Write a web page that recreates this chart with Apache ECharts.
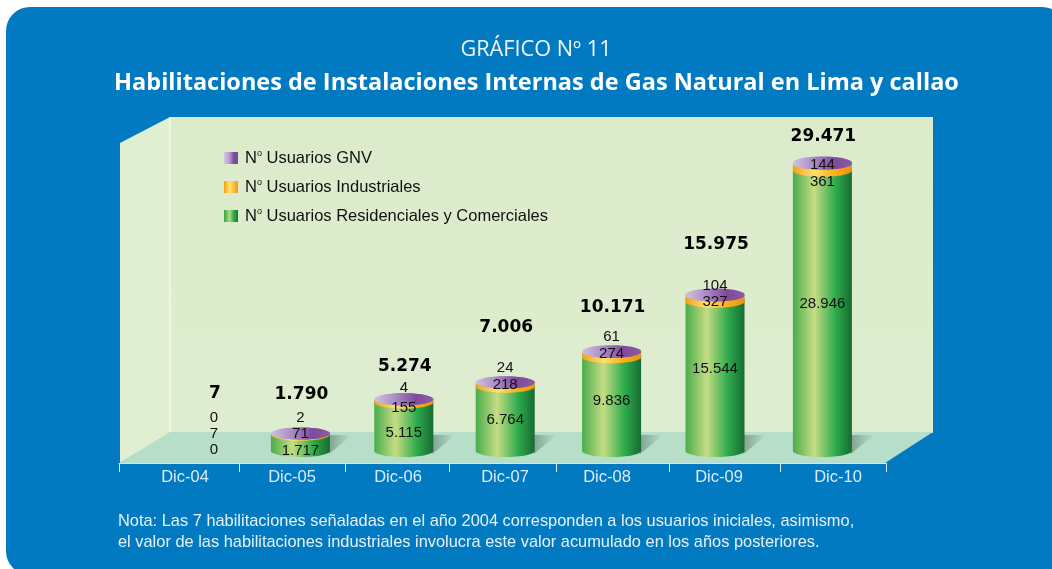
<!DOCTYPE html>
<html><head><meta charset="utf-8">
<style>html,body{margin:0;padding:0;background:#fff}#c{width:1052px;height:569px}</style>
<script src="https://cdn.jsdelivr.net/npm/echarts@6/dist/echarts.min.js"></script>
</head><body><div id="c"></div>
<script>
const categories = ['Dic-04','Dic-05','Dic-06','Dic-07','Dic-08','Dic-09','Dic-10'];
const residenciales = [0,1717,5115,6764,9836,15544,28946];
const industriales = [7,71,155,218,274,327,361];
const gnv = [0,2,4,24,61,104,144];
const totales = [7,1790,5274,7006,10171,15975,29471];

// axis slots as drawn in the reference (uneven), in axis units
const tickEdges = [0,120,226,330,437,550,661,767];
const labelCenters = [66,173,279,386,488,600,719];

// nudges (px), independent of the data
const barNudge = [0,0,-1,-4,-2,-3,0];
const labelNudgeX = [18,0,0,0,0,0,0];
const nudgeGnv = [-34,-17,-12,-15,-15,-10,1];
const nudgeInd = [-18,-1,8,2,2,6,18];
const nudgeRes = [-2,16,33,37,49,73,140];
const nudgeTot = [-58,-40,-34,-56,-45,-51,-27];

const fmt = v => String(v).replace(/\B(?=(\d{3})+$)/g,'.');
const grad = stops => new echarts.graphic.LinearGradient(0,0,1,0,stops.map(c=>({offset:c[0],color:c[1]})));
const greenG = () => grad([[0,'#48ad4c'],[0.36,'#c6dc84'],[0.72,'#2dab4c'],[1,'#176b31']]);
const orangeG = () => grad([[0,'#f4a21c'],[0.36,'#ffdf70'],[0.7,'#fbb01c'],[1,'#e8930e']]);
const purpleG = () => grad([[0,'#cfc2e0'],[0.35,'#ab8cc4'],[0.7,'#7f4a9d'],[1,'#8a5ba8']]);

const HALF = 29.5, RY = 6;
const sums = categories.map((_,i)=>residenciales[i]+industriales[i]+gnv[i]);

function cyl(level){
  return function(params, api){
    const i = api.value(0), val = api.value(1), base = api.value(2);
    const cx0 = api.coord([i,0])[0] + barNudge[i];
    let y0 = api.coord([i,base])[1];
    const y1 = api.coord([i,base+val])[1];
    if (level===1) y0 += (y0-y1); // the thin band reads thicker in the reference
    const topY = api.coord([i,sums[i]])[1];
    const children = [];
    const visible = sums[i] > 100;
    if (visible && val > 0) {
      const fill = level===0?greenG():level===1?orangeG():purpleG();
      if (level===0) {
        children.push({type:'polygon',shape:{points:[[cx0+HALF-1,y0-16],[cx0+HALF+22,y0-16],[cx0+HALF-1,y0+3]]},
          style:{fill:new echarts.graphic.LinearGradient(0,0,1,0,[{offset:0,color:'rgba(80,105,95,.5)'},{offset:1,color:'rgba(80,105,95,0)'}])},z2:1});
      }
      children.push({type:'ellipse',shape:{cx:cx0,cy:y0,rx:HALF,ry:RY},style:{fill},z2:2+level});
      children.push({type:'rect',shape:{x:cx0-HALF,y:y1,width:HALF*2,height:y0-y1},style:{fill},z2:2+level});
      if (level===2) children.push({type:'ellipse',shape:{cx:cx0,cy:y1,rx:HALF,ry:RY},style:{fill},z2:6});
    }
    const ny = level===0?nudgeRes[i]:level===1?nudgeInd[i]:nudgeGnv[i];
    const tx = cx0+labelNudgeX[i];
    children.push({type:'text',z2:100,style:{x:tx,y:topY+ny+1,text:fmt(val),textAlign:'center',textVerticalAlign:'middle',
      fill:'#111',font:'15px "Liberation Sans"'}});
    if (level===2) children.push({type:'text',z2:100,style:{x:tx+1,y:topY+nudgeTot[i]+1,text:fmt(totales[i]),textAlign:'center',textVerticalAlign:'middle',
      fill:'#000',font:'bold 17px "DejaVu Sans"'}});
    return {type:'group',children};
  };
}
const mk = (name,vals,bases,level,color)=>({
  type:'custom',name,xAxisIndex:0,yAxisIndex:0,clip:false,
  renderItem:cyl(level),
  itemStyle:{color},
  encode:{x:0,y:1},
  data:vals.map((v,i)=>[i,v,bases[i]])
});
const zeros = categories.map(()=>0);
const names = ['Usuarios Residenciales y Comerciales','Usuarios Industriales','Usuarios GNV'];
const chart = echarts.init(document.getElementById('c'),null,{renderer:'canvas'});
const legendG = s => new echarts.graphic.LinearGradient(0,0,1,0,s);
chart.setOption({
  animation:false,
  backgroundColor:'#ffffff',
  title:[
    {text:'GRÁFICO Nº 11',left:531,top:34,textAlign:'center',textStyle:{color:'#eef6fb',fontFamily:'Open Sans',fontWeight:'normal',fontSize:21.7}},
    {text:'Habilitaciones de Instalaciones Internas de Gas Natural en Lima y callao',left:531.5,top:66,textAlign:'center',textStyle:{color:'#fff',fontFamily:'Open Sans',fontWeight:'bold',fontSize:23.5}}
  ],
  legend:{
    left:224,top:149,padding:0,orient:'vertical',itemWidth:14,itemHeight:12,itemGap:11.5,icon:'rect',
    data:[names[2],names[1],names[0]],selectedMode:false,
    formatter:n=>'{p| }{n|N}{s|o}{n| '+n+'}',
    textStyle:{rich:{p:{width:2,fontSize:4,lineHeight:18},n:{fontFamily:'Liberation Sans',fontSize:16.5,color:'#111',lineHeight:18},s:{fontFamily:'Liberation Sans',fontSize:9,color:'#111',verticalAlign:'top',lineHeight:18}}}
  },
  grid:[
    {left:143.8,width:730.8,top:157,height:294},
    {left:119,width:767,top:172,height:291}
  ],
  xAxis:[
    {type:'category',gridIndex:0,data:categories,show:false},
    {type:'value',gridIndex:1,min:0,max:767,splitLine:{show:false},
     axisLine:{show:true,lineStyle:{color:'#cfe6f2',width:1}},
     axisTick:{show:true,length:9,inside:false,customValues:tickEdges,lineStyle:{color:'#dcecf5',width:1}},
     axisLabel:{customValues:labelCenters,margin:6,color:'#dcecf7',fontFamily:'Liberation Sans',fontSize:16.5,
       formatter:v=>categories[labelCenters.indexOf(v)]||''}}
  ],
  yAxis:[
    {type:'value',gridIndex:0,min:0,max:30000,show:false},
    {type:'value',gridIndex:1,min:0,max:30000,show:false}
  ],
  graphic:[
    {type:'rect',z:-10,shape:{x:6,y:7,width:1060,height:568,r:24},style:{fill:'#027ac1'}},
    {type:'rect',z:-9,shape:{x:170,y:117,width:763,height:316},style:{fill:new echarts.graphic.LinearGradient(0,0,0,1,[{offset:0,color:'#dbebcb'},{offset:1,color:'#deedcf'}])}},
    {type:'polygon',z:-9,shape:{points:[[120,143],[170,117],[170,433],[120,463]]},style:{fill:'#e0efd2'}},
    {type:'polygon',z:-8,shape:{points:[[120,463],[170,432],[933,432],[885,463]]},style:{fill:'#b7dec9'}},
    {type:'line',z:-7,shape:{x1:170,y1:117,x2:170,y2:432},style:{stroke:'#ffffff',lineWidth:1}},
    {type:'text',z:1,style:{x:118,y:511,text:'Nota: Las 7 habilitaciones señaladas en el año 2004 corresponden a los usuarios iniciales, asimismo,\nel valor de las habilitaciones industriales involucra este valor acumulado en los años posteriores.',
      fill:'#e6f2fa',font:'16.4px "Liberation Sans"',lineHeight:21}}
  ],
  series:[
    mk(names[0],residenciales,zeros,0,legendG([{offset:0,color:'#2fa548'},{offset:.4,color:'#b8d87c'},{offset:.7,color:'#2dab4c'},{offset:1,color:'#1c7a38'}])),
    mk(names[1],industriales,residenciales,1,legendG([{offset:0,color:'#f59f12'},{offset:.4,color:'#ffe36a'},{offset:1,color:'#ee9a10'}])),
    mk(names[2],gnv,residenciales.map((r,i)=>r+industriales[i]),2,legendG([{offset:0,color:'#d4c8e4'},{offset:.4,color:'#b49acb'},{offset:.7,color:'#7f4a9d'},{offset:1,color:'#7f4a9d'}]))
  ]
});
</script></body></html>
